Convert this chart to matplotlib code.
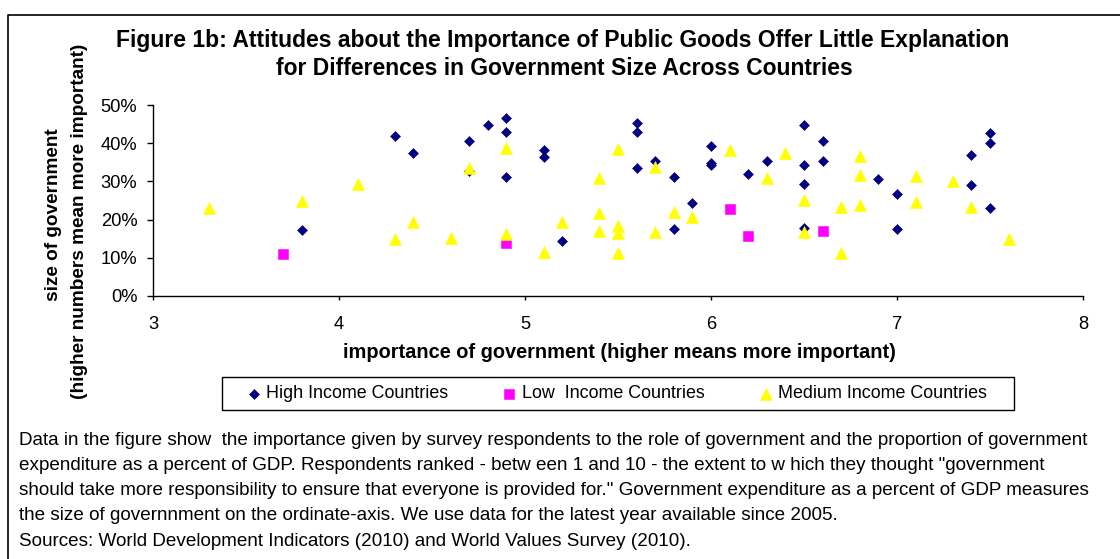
import matplotlib
matplotlib.use("Agg")
import matplotlib.pyplot as plt
from matplotlib.lines import Line2D
from matplotlib.patches import Rectangle
from matplotlib.ticker import PercentFormatter

plt.rcParams['font.family'] = ['Liberation Sans', 'DejaVu Sans']

# importance of government (x) and government size in % of GDP (y)
high_x = [3.8, 4.3, 4.4, 4.7, 4.7, 4.8, 4.9, 4.9, 4.9, 5.1, 5.1, 5.2, 5.6, 5.6, 5.6,
          5.7, 5.8, 5.8, 5.9, 6.0, 6.0, 6.0, 6.2, 6.3, 6.5, 6.5, 6.5, 6.5, 6.6, 6.6,
          6.9, 7.0, 7.0, 7.4, 7.4, 7.5, 7.5, 7.5]
high_y = [17.2, 42.0, 37.4, 40.6, 32.8, 44.7, 46.5, 42.9, 31.2, 38.3, 36.4, 14.5, 45.3, 42.9, 33.4,
          35.4, 31.1, 17.6, 24.4, 39.3, 34.7, 34.2, 32.0, 35.3, 44.7, 34.4, 29.4, 17.9, 40.6, 35.3,
          30.7, 26.7, 17.6, 37.0, 29.0, 42.6, 40.0, 23.0]

low_x = [3.7, 4.9, 6.1, 6.2, 6.6]
low_y = [11.0, 14.0, 22.8, 15.6, 16.9]

medium_x = [3.3, 3.8, 4.1, 4.3, 4.4, 4.6, 4.7, 4.9, 4.9, 5.1, 5.2, 5.4, 5.4, 5.4, 5.5,
            5.5, 5.5, 5.5, 5.7, 5.7, 5.8, 5.9, 6.1, 6.3, 6.4, 6.5, 6.5, 6.7, 6.7, 6.8,
            6.8, 6.8, 7.1, 7.1, 7.3, 7.4, 7.6]
medium_y = [23.0, 24.9, 29.2, 14.9, 19.3, 15.3, 33.6, 38.8, 16.1, 11.6, 19.3, 31.0, 21.6, 17.0, 38.4,
            18.3, 16.4, 11.3, 33.8, 16.7, 21.9, 20.7, 38.3, 31.0, 37.4, 25.2, 16.8, 23.4, 11.3, 36.6,
            31.6, 23.8, 31.5, 24.7, 30.2, 23.4, 14.9]

series_names = ["High Income Countries", "Low  Income Countries", "Medium Income Countries"]
x_ticks = [3, 4, 5, 6, 7, 8]
y_ticks = [0, 10, 20, 30, 40, 50]

title_lines = ["Figure 1b: Attitudes about the Importance of Public Goods Offer Little Explanation",
               "for Differences in Government Size Across Countries"]
x_label = "importance of government (higher means more important)"
y_label_lines = ["size of government", "(higher numbers mean more important)"]
note_lines = [
    "Data in the figure show  the importance given by survey respondents to the role of government and the proportion of government",
    "expenditure as a percent of GDP. Respondents ranked - betw een 1 and 10 - the extent to w hich they thought \"government",
    "should take more responsibility to ensure that everyone is provided for.\" Government expenditure as a percent of GDP measures",
    "the size of governnment on the ordinate-axis. We use data for the latest year available since 2005.",
    "Sources: World Development Indicators (2010) and World Values Survey (2010).",
]

W, H = 1120, 559
fig = plt.figure(figsize=(W / 100, H / 100), dpi=100)
fig.patch.set_facecolor("white")


def fx(px):
    return px / W


def fy(py):
    return 1 - py / H


# outer frame (left and top edges)
fig.add_artist(Line2D([fx(8), fx(8), 1.0], [0.0, fy(15), fy(15)],
                      transform=fig.transFigure, color="black", lw=1.2))

ax = fig.add_axes([fx(153), fy(296), fx(1083) - fx(153), fy(105) - fy(296)])

styles = [
    dict(marker="D", color="#000080", ms=5.4),
    dict(marker="s", color="#FF00FF", ms=6.6),
    dict(marker="^", color="#FFFF00", ms=8.6),
]
data = [(high_x, high_y), (low_x, low_y), (medium_x, medium_y)]
for (xs, ys), st, name in zip(data, styles, series_names):
    ax.plot(xs, ys, linestyle="none", marker=st["marker"], ms=st["ms"],
            mfc=st["color"], mec=st["color"], mew=0.4, label=name, clip_on=False)

ax.set_xlim(3, 8)
ax.set_ylim(0, 50)
ax.set_xticks(x_ticks)
ax.set_yticks(y_ticks)
ax.yaxis.set_major_formatter(PercentFormatter(xmax=100, decimals=0))
for side in ("top", "right"):
    ax.spines[side].set_visible(False)
for side in ("left", "bottom"):
    ax.spines[side].set_linewidth(1.0)
    ax.spines[side].set_color("black")
ax.tick_params(axis="x", direction="out", length=3, width=1.0, pad=11.5, labelsize=13.2)
ax.tick_params(axis="y", direction="out", length=4.3, width=1.0, pad=7, labelsize=13.2)

# titles and axis labels
fig.text(fx(562.5), fy(47), title_lines[0], ha="center", va="baseline",
         fontsize=16.5, fontweight="bold")
fig.text(fx(564.5), fy(75), title_lines[1], ha="center", va="baseline",
         fontsize=16.5, fontweight="bold")
fig.text(fx(619), fy(352), x_label, ha="center", va="center",
         fontsize=14.45, fontweight="bold")
fig.text(fx(54), fy(215), y_label_lines[0], ha="center", va="center",
         rotation=90, fontsize=13.7, fontweight="bold")
fig.text(fx(80), fy(221), y_label_lines[1], ha="center", va="center",
         rotation=90, fontsize=13.7, fontweight="bold")

# legend box with one entry per series
fig.add_artist(Rectangle((fx(222), fy(410)), fx(1014) - fx(222), fy(377) - fy(410),
                         transform=fig.transFigure, fill=False, ec="black", lw=1.0))
legend_marker_x = [254, 509, 766]
for st, name, mx in zip(styles, series_names, legend_marker_x):
    fig.add_artist(Line2D([fx(mx)], [fy(393.5)], transform=fig.transFigure,
                          linestyle="none", marker=st["marker"], ms=st["ms"],
                          mfc=st["color"], mec=st["color"], mew=0.4))
    fig.text(fx(mx + 12.5), fy(393.5), name, ha="left", va="center", fontsize=12.9)

# explanatory note
note_baselines = [445, 470, 495, 520.5, 545.5]
for line, base in zip(note_lines, note_baselines):
    fig.text(fx(19), fy(base), line, ha="left", va="baseline", fontsize=13.55)

fig.savefig("out.png", dpi=100, facecolor="white")
